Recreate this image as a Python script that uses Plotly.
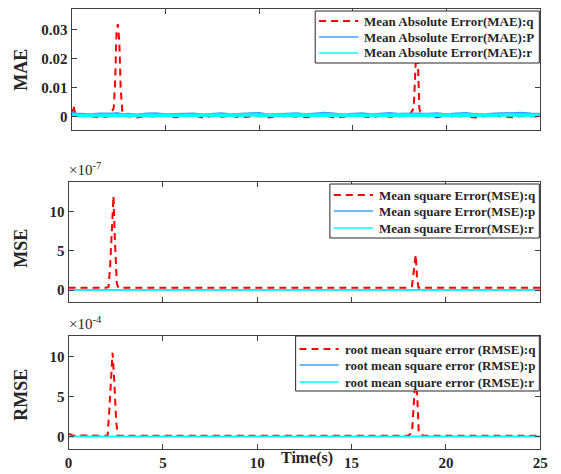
import plotly.graph_objects as go

# ---------------- data ----------------
t_mae = [0, 0.1, 0.2, 0.5, 1.0, 1.5, 2.0,
         2.25, 2.32, 2.4, 2.47, 2.55, 2.62, 2.72,
         3.0, 3.5, 4.0, 4.5, 5.0, 5.5, 6.0, 6.5, 7.0, 7.5, 8.0, 8.5, 9.0, 9.5, 10.0,
         10.5, 11.0, 11.5, 12.0, 12.5, 13.0, 13.5, 14.0, 14.5, 15.0, 15.5, 16.0, 16.5, 17.0, 17.5,
         18.0, 18.25, 18.32, 18.4, 18.48, 18.55, 18.65,
         19.0, 19.5, 20.0, 20.5, 21.0, 21.5, 22.0, 22.5, 23.0, 23.5, 24.0, 24.5, 25.0]
mae_q = [0.0004, 0.0040, 0.0010, 0.0003, 0.0002, -0.0001, 0.0002,
         0.0030, 0.0110, 0.0290, 0.0320, 0.0260, 0.0100, 0.0010,
         0.0002, -0.0002, 0.0003, 0.0001, 0.0004, -0.0001, 0.0002, 0.0005, -0.0002, 0.0003,
         0.0001, 0.0004, -0.0001, 0.0002, 0.0003, -0.0002, 0.0004, 0.0001, 0.0002, -0.0001,
         0.0003, 0.0005, -0.0002, 0.0001, 0.0004, 0.0002, -0.0001, 0.0003, 0.0001, 0.0002,
         0.0003, 0.0030, 0.0150, 0.0250, 0.0180, 0.0030, 0.0005,
         0.0002, -0.0001, 0.0004, 0.0001, 0.0003, -0.0002, 0.0002, 0.0004, 0.0001, -0.0001,
         0.0003, 0.0002, 0.0001]
mae_p = [0.0010, 0.0012, 0.0009, 0.0008, 0.0007, 0.0009, 0.0008,
         0.0009, 0.0010, 0.0011, 0.0010, 0.0009, 0.0008, 0.0007,
         0.0008, 0.0006, 0.0009, 0.0010, 0.0007, 0.0008, 0.0011, 0.0009, 0.0006, 0.0008,
         0.0010, 0.0007, 0.0009, 0.0008, 0.0011, 0.0006, 0.0008, 0.0009, 0.0010, 0.0007,
         0.0008, 0.0012, 0.0009, 0.0006, 0.0008, 0.0010, 0.0007, 0.0009, 0.0011, 0.0008,
         0.0009, 0.0010, 0.0011, 0.0009, 0.0008, 0.0010, 0.0009,
         0.0008, 0.0010, 0.0007, 0.0009, 0.0011, 0.0008, 0.0006, 0.0009, 0.0010, 0.0008,
         0.0012, 0.0009, 0.0008]
mae_r = [0.0006, 0.0007, 0.0006, 0.0005, 0.0006, 0.0007, 0.0006,
         0.0006, 0.0007, 0.0006, 0.0005, 0.0006, 0.0007, 0.0006,
         0.0005, 0.0006, 0.0007, 0.0006, 0.0005, 0.0006, 0.0007, 0.0005, 0.0006, 0.0006,
         0.0007, 0.0005, 0.0006, 0.0007, 0.0006, 0.0005, 0.0006, 0.0007, 0.0006, 0.0005,
         0.0006, 0.0007, 0.0006, 0.0005, 0.0006, 0.0006, 0.0007, 0.0005, 0.0006, 0.0007,
         0.0006, 0.0005, 0.0006, 0.0007, 0.0006, 0.0005, 0.0006,
         0.0007, 0.0006, 0.0005, 0.0006, 0.0007, 0.0006, 0.0005, 0.0006, 0.0007, 0.0006,
         0.0005, 0.0006, 0.0006]

# MSE values in units of 1e-7
t_mse = [0, 0.5, 1.0, 1.5, 2.0, 2.12, 2.2, 2.3, 2.38, 2.46, 2.56, 2.64, 3.0, 5.0, 8.0, 10.0,
         12.0, 15.0, 18.0, 18.2, 18.3, 18.4, 18.47, 18.55, 18.8, 20.0, 22.0, 25.0]
mse_q = [0.3, 0.3, 0.3, 0.3, 0.3, 0.4, 3.0, 8.0, 12.0, 6.0, 0.8, 0.3, 0.3, 0.3, 0.3, 0.3,
         0.3, 0.3, 0.3, 0.5, 2.5, 4.5, 1.5, 0.3, 0.3, 0.3, 0.3, 0.3]
mse_p = [0.02, 0.02, 0.02, 0.02, 0.02, 0.02, 0.03, 0.03, 0.04, 0.03, 0.02, 0.02,
         0.02, 0.02, 0.02, 0.02, 0.02, 0.02, 0.02, 0.02, 0.03, 0.03, 0.02, 0.02, 0.02, 0.02,
         0.02, 0.02]
mse_r = [0.01, 0.01, 0.01, 0.01, 0.01, 0.01, 0.01, 0.02, 0.02, 0.02, 0.01, 0.01,
         0.01, 0.01, 0.01, 0.01, 0.01, 0.01, 0.01, 0.01, 0.01, 0.02, 0.01, 0.01, 0.01, 0.01,
         0.01, 0.01]

# RMSE values in units of 1e-4
t_rmse = [0, 0.1, 0.2, 0.5, 1.0, 1.5, 2.0, 2.07, 2.15, 2.25, 2.33, 2.42, 2.52, 2.6, 3.0, 5.0,
          8.0, 10.0, 12.0, 15.0, 18.0, 18.2, 18.3, 18.4, 18.48, 18.56, 18.8, 20.0, 22.0, 25.0]
rmse_q = [0.3, 0.3, 0.15, 0.13, 0.13, 0.13, 0.13, 0.2, 3.0, 8.0, 10.5, 7.0, 2.0, 0.13, 0.13, 0.13,
          0.13, 0.13, 0.13, 0.13, 0.13, 0.5, 4.0, 8.0, 5.0, 0.5, 0.13, 0.13, 0.13, 0.13]
rmse_p = [0.02, 0.02, 0.02, 0.02, 0.02, 0.02, 0.02, 0.02, 0.03, 0.03, 0.04, 0.03, 0.02, 0.02,
          0.02, 0.02, 0.02, 0.02, 0.02, 0.02, 0.02, 0.02, 0.03, 0.03, 0.02, 0.02, 0.02, 0.02,
          0.02, 0.02]
rmse_r = [0.01, 0.01, 0.01, 0.01, 0.01, 0.01, 0.01, 0.01, 0.01, 0.02, 0.02, 0.02, 0.01, 0.01,
          0.01, 0.01, 0.01, 0.01, 0.01, 0.01, 0.01, 0.01, 0.01, 0.02, 0.01, 0.01, 0.01, 0.01,
          0.01, 0.01]

names_mae = ["Mean Absolute Error(MAE):q", "Mean Absolute Error(MAE):P", "Mean Absolute Error(MAE):r"]
names_mse = ["Mean square Error(MSE):q", "Mean square Error(MSE):p", "Mean square Error(MSE):r"]
names_rmse = ["root mean square error (RMSE):q", "root mean square error (RMSE):p",
              "root mean square error (RMSE):r"]

x_ticks = [0, 5, 10, 15, 20, 25]

# ---------------- styling ----------------
W, H = 561, 474
RED, BLUE, CYAN = "#FF0000", "#3AA0FF", "#00FFFF"
FONT = "Liberation Serif"
TXT = "#262626"
AX = "#404040"
DASH = "7px,5px"

def px(v, total):
    return v / total

fig = go.Figure()

def add_panel(t, q, p, r, names, idx, band):
    xa = "x" if idx == 1 else f"x{idx}"
    ya = "y" if idx == 1 else f"y{idx}"
    w = 3.5 if band else 1.5
    fig.add_trace(go.Scatter(x=t, y=q, mode="lines", name=names[0], xaxis=xa, yaxis=ya,
                             line=dict(color=RED, width=2, dash=DASH), showlegend=False))
    fig.add_trace(go.Scatter(x=t, y=p, mode="lines", name=names[1], xaxis=xa, yaxis=ya,
                             line=dict(color=BLUE, width=w), showlegend=False))
    fig.add_trace(go.Scatter(x=t, y=r, mode="lines", name=names[2], xaxis=xa, yaxis=ya,
                             line=dict(color=CYAN, width=w), showlegend=False))

add_panel(t_mae, mae_q, mae_p, mae_r, names_mae, 1, True)
add_panel(t_mse, mse_q, mse_p, mse_r, names_mse, 2, False)
add_panel(t_rmse, rmse_q, rmse_p, rmse_r, names_rmse, 3, False)

tickfont = dict(family=FONT, size=15, color=TXT, weight="bold")

def xaxis(dom, show_labels, anchor):
    return dict(domain=dom, range=[0, 25], tickvals=x_ticks, showticklabels=show_labels,
                ticks="inside", ticklen=5, tickcolor=AX, showline=True, linecolor=AX,
                linewidth=1, mirror="ticks", showgrid=False, zeroline=False, anchor=anchor,
                tickfont=tickfont)

def yaxis(dom, rng, tv, tt, anchor):
    return dict(domain=dom, range=rng, tickvals=tv, ticktext=tt, ticks="inside", ticklen=5,
                tickcolor=AX, showline=True, linecolor=AX, linewidth=1, mirror="ticks",
                showgrid=False, zeroline=False, anchor=anchor, tickfont=tickfont)

xd_top = [px(69, W), px(548, W)]
xd = [px(66, W), px(548, W)]
yd1 = [1 - px(130, H), 1 - px(9, H)]
yd2 = [1 - px(302, H), 1 - px(182, H)]
yd3 = [1 - px(449, H), 1 - px(336, H)]

fig.update_layout(
    width=W, height=H, margin=dict(l=0, r=0, t=0, b=0),
    paper_bgcolor="white", plot_bgcolor="white",
    font=dict(family=FONT, color=TXT),
    xaxis=xaxis(xd_top, False, "y"),
    yaxis=yaxis(yd1, [-0.0045, 0.0372], [0, 0.01, 0.02, 0.03], ["0", "0.01", "0.02", "0.03"], "x"),
    xaxis2=xaxis(xd, False, "y2"),
    yaxis2=yaxis(yd2, [-1.53, 13.8], [0, 5, 10], ["0", "5", "10"], "x2"),
    xaxis3=xaxis(xd, True, "y3"),
    yaxis3=yaxis(yd3, [-1.54, 12.6], [0, 5, 10], ["0", "5", "10"], "x3"),
    showlegend=False,
)

# ---- legends drawn as boxes with sample lines and labels ----
legfont = dict(family=FONT, size=13, color=TXT, weight="bold")
legend_specs = [
    # box (x0, y0, x1, y1) in px, row centres, line x0, x1, text x
    (names_mae, (318, 11, 547, 63), (21, 37, 53), 322, 362, 366),
    (names_mse, (333, 184, 547, 238), (195, 211, 228), 337, 377, 381),
    (names_rmse, (298, 336, 547, 391), (349, 365, 382), 302, 342, 346),
]
styles = [dict(color=RED, width=2, dash=DASH), dict(color=BLUE, width=1.5),
          dict(color=CYAN, width=1.5)]
for names, box, rows, lx0, lx1, tx in legend_specs:
    fig.add_shape(type="rect", xref="paper", yref="paper", layer="above",
                  x0=px(box[0], W), x1=px(box[2], W), y0=1 - px(box[3], H), y1=1 - px(box[1], H),
                  fillcolor="white", line=dict(color="#262626", width=1))
    for nm, yr, st in zip(names, rows, styles):
        fig.add_shape(type="line", xref="paper", yref="paper", layer="above",
                      x0=px(lx0, W), x1=px(lx1, W), y0=1 - px(yr, H), y1=1 - px(yr, H), line=st)
        fig.add_annotation(xref="paper", yref="paper", x=px(tx, W), y=1 - px(yr, H), text=nm,
                           showarrow=False, xanchor="left", yanchor="middle", font=legfont)

titlefont = dict(family=FONT, size=18, color=TXT, weight="bold")
for txt, yc in [("MAE", 70), ("MSE", 248), ("RMSE", 395)]:
    fig.add_annotation(xref="paper", yref="paper", showarrow=False, xanchor="center",
                       yanchor="middle", font=titlefont, text=txt, x=px(17, W),
                       y=1 - px(yc, H), textangle=-90)

fig.add_annotation(xref="paper", yref="paper", x=px(310, W), y=1 - px(458, H), text="Time(s)",
                   showarrow=False, xanchor="center", yanchor="middle",
                   font=dict(family=FONT, size=16, color=TXT, weight="bold"))
for txt, ybot in [("×10<sup>-7</sup>", 180), ("×10<sup>-4</sup>", 334)]:
    fig.add_annotation(xref="paper", yref="paper", x=px(64, W), y=1 - px(ybot, H), text=txt,
                       showarrow=False, xanchor="left", yanchor="bottom",
                       font=dict(family=FONT, size=15, color=TXT))

fig.write_html("out.html")
